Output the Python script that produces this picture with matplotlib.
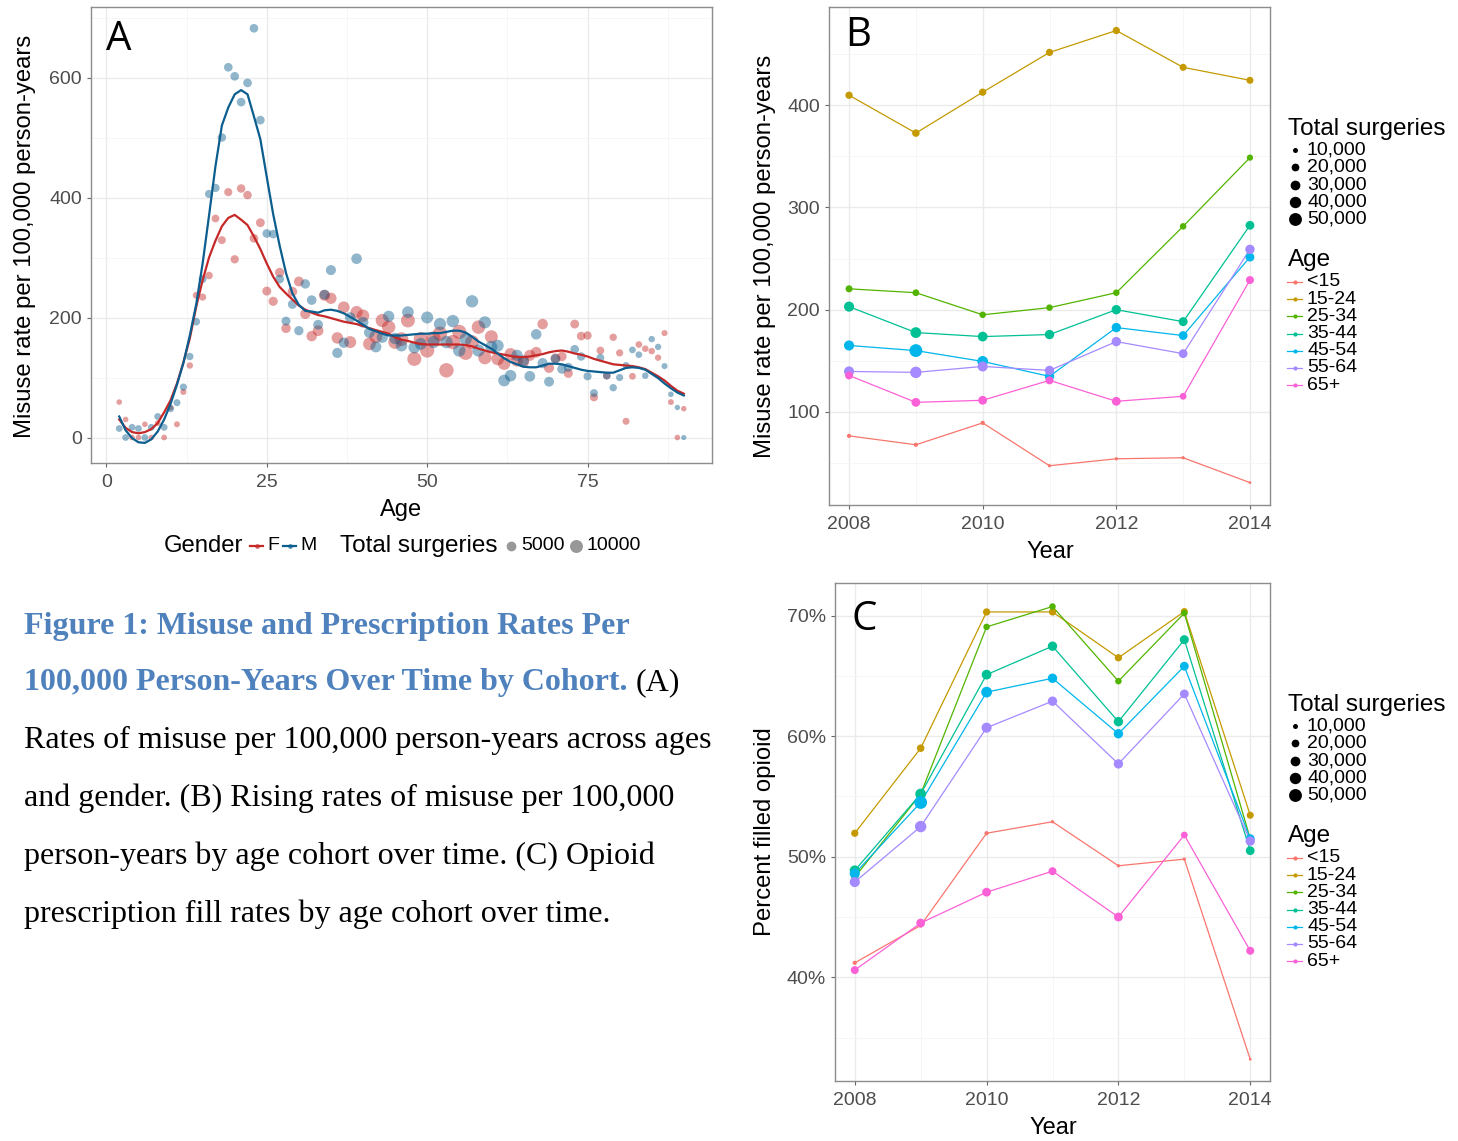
import numpy as np
import matplotlib.pyplot as plt
from matplotlib.lines import Line2D
from matplotlib.ticker import FuncFormatter

W, H = 1458, 1141
SANS = 'Liberation Sans'
SERIF = 'Liberation Serif'

# ---------------- panel A data ----------------
ages = list(range(2, 91))
f_rate = [59, 30, 0, 0, 22, 0, 24, 0, 50, 22, 76, 120,
          237, 234, 270, 365, 329,
          409, 297, 415, 404, 332, 358,
          244, 227, 275, 182, 243,
          260, 206, 169, 178, 237, 232,
          166, 217, 159, 209, 203, 156, 168, 195, 184, 159,
          164, 195, 131, 164, 145, 165, 173, 112, 159, 176, 141,
          159, 184, 133, 168, 131, 123,
          139, 128, 126, 137, 142, 189, 116, 132,
          135, 107, 189, 169, 170, 67, 145, 103, 167, 141,
          27, 102, 155, 148, 144, 133, 174,
          59, 0, 48]
m_rate = [15, 0, 17, 15, 0, 17, 35, 17, 48, 58, 84, 135,
          193, 264, 406, 416, 500,
          617, 602, 559, 591, 682, 529,
          340, 339, 264, 194, 222,
          178, 256, 229, 188, 238, 279,
          141, 158, 200, 298, 192, 175, 151, 167, 202, 165,
          153, 209, 150, 156, 200, 159, 189, 159, 194, 145, 164,
          227, 145, 192, 151, 153, 95,
          103, 137, 128, 102, 172, 124, 93, 131,
          114, 117, 147, 135, 102, 74, 133, 103, 83, 100,
          120, 146, 138, 103, 164, 151, 119,
          72, 50, 0]
# total surgeries (thousands)
f_surg = [0.6, 0.6, 0.6, 0.6, 0.6, 0.6, 0.7, 0.7, 0.8, 0.9, 1.0, 1.3,
          1.8, 2.0, 2.4, 2.6, 2.8,
          3.0, 3.2, 3.4, 3.4, 3.6, 3.8,
          4.0, 4.2, 4.4, 4.6, 4.8,
          5.2, 5.6, 6.0, 6.4, 6.8, 7.2,
          7.6, 8.0, 8.4, 8.8, 9.2, 9.6, 10.0, 10.4, 10.8, 11.2,
          11.6, 11.8, 12.0, 12.2, 12.4, 12.6, 12.8, 12.8, 12.6, 12.4, 12.0,
          11.5, 11.0, 10.5, 10.0, 9.5, 9.0,
          8.5, 8.0, 7.5, 7.0, 6.5, 6.0, 5.5, 5.0,
          4.6, 4.2, 3.8, 3.5, 3.2, 2.9, 2.6, 2.4, 2.2, 2.0,
          1.8, 1.6, 1.5, 1.4, 1.3, 1.2, 1.0,
          0.8, 0.6, 0.5]
m_surg = [1.6, 1.6, 1.6, 1.6, 1.6, 1.6, 1.7, 1.7, 1.8, 1.9, 2.0, 2.2,
          2.5, 2.8, 3.0, 3.2, 3.4,
          3.6, 3.6, 3.6, 3.6, 3.6, 3.6,
          3.6, 3.6, 3.8, 4.0, 4.2,
          4.4, 4.6, 4.8, 5.0, 5.2, 5.4,
          5.6, 5.8, 6.0, 6.2, 6.4, 6.6, 6.8, 7.0, 7.2, 7.4,
          7.6, 7.8, 8.0, 8.2, 8.4, 8.6, 8.8, 9.0, 9.0, 9.0, 9.0,
          9.0, 8.8, 8.6, 8.4, 8.2, 8.0,
          7.6, 7.2, 6.8, 6.4, 6.0, 5.6, 5.2, 4.8,
          4.4, 4.0, 3.6, 3.3, 3.0, 2.8, 2.6, 2.4, 2.2, 2.0,
          1.8, 1.6, 1.5, 1.4, 1.3, 1.2, 1.0,
          0.6, 0.4, 0.3]
# smoothed curves
f_fit = [30, 16, 9, 7, 9, 14, 24, 42, 62, 90, 125, 165,
         218, 262, 300, 328, 352,
         366, 371, 363, 354, 335, 314,
         290, 268, 251, 240, 230,
         220, 213, 208, 204, 202, 199,
         196, 193, 191, 189, 186, 182, 179, 176, 173, 167,
         163, 161, 158, 156, 155, 155, 155, 155, 155, 155, 154,
         152, 148, 145, 142, 140, 138,
         136, 134, 134, 135, 137, 139, 142, 144,
         145, 143, 140, 138, 135, 131, 128, 125, 122, 121,
         120, 119, 117, 114, 108, 102, 95,
         86, 78, 73]
m_fit = [35, 12, -1, -8, -9, -3, 10, 30, 56, 88, 124, 170,
         222, 290, 370, 452, 520,
         550, 572, 579, 572, 535, 497,
         434, 372, 320, 274, 240,
         221, 211, 210, 208, 212, 213,
         211, 207, 201, 195, 188, 181, 177, 173, 170, 170,
         170, 171, 172, 173, 173, 174, 174, 176, 178, 178, 175,
         168, 160, 154, 148, 140, 132,
         126, 122, 118, 117, 117, 120, 123, 123,
         122, 119, 116, 113, 111, 110, 109, 108, 108, 112,
         116, 117, 116, 113, 106, 99, 90,
         82, 75, 70]

# ---------------- panels B and C data ----------------
years = [2008, 2009, 2010, 2011, 2012, 2013, 2014]
cohorts = ['<15', '15-24', '25-34', '35-44', '45-54', '55-64', '65+']
hue = ['#F8766D', '#C49A00', '#53B400', '#00C094', '#00B6EB', '#A58AFF', '#FB61D7']

misuse_u15 = [76.6, 67.9, 89.3, 47.4, 54.2, 55.2, 30.9]
misuse_15_24 = [409.7, 372.7, 412.7, 451.6, 473.0, 437.0, 424.3]
misuse_25_34 = [220.4, 216.6, 195.0, 202.0, 216.6, 281.5, 348.7]
misuse_35_44 = [203.0, 177.6, 173.7, 175.7, 200.0, 188.3, 282.5]
misuse_45_54 = [165.0, 160.0, 149.4, 134.8, 182.5, 174.7, 251.4]
misuse_55_64 = [139.6, 138.7, 144.5, 140.6, 168.8, 157.0, 259.0]
misuse_65 = [135.7, 109.4, 111.4, 130.9, 110.4, 115.3, 229.0]

filled_u15 = [41.2, 44.3, 51.95, 52.9, 49.25, 49.8, 33.2]
filled_15_24 = [51.95, 59.0, 70.3, 70.3, 66.5, 70.33, 53.44]
filled_25_34 = [48.3, 55.2, 69.06, 70.75, 64.56, 70.2, 51.5]
filled_35_44 = [48.86, 55.2, 65.1, 67.46, 61.2, 68.0, 50.5]
filled_45_54 = [48.6, 54.5, 63.65, 64.8, 60.2, 65.8, 51.5]
filled_55_64 = [47.9, 52.5, 60.7, 62.9, 57.7, 63.5, 51.3]
filled_65 = [40.6, 44.5, 47.06, 48.8, 45.0, 51.8, 42.2]

surg_u15 = [8, 8, 8, 6, 6, 6, 5]
surg_15_24 = [18, 19, 18, 18, 18, 17, 17]
surg_25_34 = [17, 16, 15, 15, 15, 15, 14]
surg_35_44 = [32, 36, 30, 28, 28, 26, 25]
surg_45_54 = [32, 50, 36, 28, 28, 25, 25]
surg_55_64 = [32, 40, 32, 28, 28, 25, 28]
surg_65 = [21, 25, 25, 21, 25, 16, 21]

misuse = [misuse_u15, misuse_15_24, misuse_25_34, misuse_35_44, misuse_45_54, misuse_55_64, misuse_65]
filled = [filled_u15, filled_15_24, filled_25_34, filled_35_44, filled_45_54, filled_55_64, filled_65]
surg = [surg_u15, surg_15_24, surg_25_34, surg_35_44, surg_45_54, surg_55_64, surg_65]

RED = '#C62828'
BLUE = '#0B5E8E'


def size_a(s_k):
    d_px = np.sqrt(27 + 14.5 * (np.asarray(s_k, float) - 0.3))
    return (d_px * 0.72) ** 2


def size_bc(s_k):
    d_px = np.sqrt(np.maximum(25 + 3.5 * (np.asarray(s_k, float) - 10), 7))
    return (d_px * 0.72) ** 2


def fx(px):
    return px / W


def fy(py):
    return 1 - py / H


def style(ax):
    ax.set_facecolor('white')
    for sp in ax.spines.values():
        sp.set_color('#8c8c8c')
        sp.set_linewidth(1.0)
    ax.grid(True, which='major', color='#EBEBEB', linewidth=1.0, zorder=0)
    ax.grid(True, which='minor', color='#F5F5F5', linewidth=0.6, zorder=0)
    ax.set_axisbelow(True)
    ax.tick_params(which='major', length=3, width=0.8, color='#666666',
                   labelcolor='#4D4D4D', labelsize=14, pad=3.5)
    ax.tick_params(axis='x', which='major', pad=5)
    ax.tick_params(which='minor', length=0)
    for lab in ax.get_xticklabels() + ax.get_yticklabels():
        lab.set_family(SANS)


plt.rcParams['font.family'] = [SANS, 'DejaVu Sans']
fig = plt.figure(figsize=(W / 100, H / 100), dpi=100)


def add_axes(l, t, r, b):
    return fig.add_axes([l / W, 1 - b / H, (r - l) / W, (b - t) / H])


# ---------------- panel A ----------------
axA = add_axes(91, 7, 712, 463)
axA.scatter(ages, f_rate, s=size_a(f_surg), color=RED, alpha=0.45, linewidths=0, zorder=2)
axA.scatter(ages, m_rate, s=size_a(m_surg), color=BLUE, alpha=0.45, linewidths=0, zorder=2)
axA.plot(ages, f_fit, color=RED, lw=1.6, zorder=3)
axA.plot(ages, m_fit, color=BLUE, lw=1.6, zorder=3)
axA.set_xlim(-2.4, 94.4)
axA.set_ylim(-42.5, 717.5)
axA.set_xticks([0, 25, 50, 75])
axA.set_xticks([12.5, 37.5, 62.5, 87.5], minor=True)
axA.set_yticks([0, 200, 400, 600])
axA.set_yticks([100, 300, 500, 700], minor=True)
style(axA)

fig.text(fx(25), fy(236), 'Misuse rate per 100,000 person-years', rotation=90,
         ha='center', va='center', fontsize=17.2)
fig.text(fx(401), fy(510), 'Age', ha='center', va='center', fontsize=17)
fig.text(fx(106), fy(40), 'A', ha='left', va='center', fontsize=29, family='Open Sans')

# bottom legend of A
ly = fy(546)
fig.text(fx(164), ly, 'Gender', ha='left', va='center', fontsize=17.2)
for x0, col, lab in [(250, RED, 'F'), (283, BLUE, 'M')]:
    fig.add_artist(Line2D([fx(x0), fx(x0 + 13)], [ly, ly], color=col, lw=1.6,
                          transform=fig.transFigure))
    fig.add_artist(Line2D([fx(x0 + 6.5)], [ly], marker='o', ms=2.5, color=col, alpha=0.6,
                          transform=fig.transFigure))
    fig.text(fx(x0 + 17), ly, lab, ha='left', va='center', fontsize=14)
fig.text(fx(340), ly, 'Total surgeries', ha='left', va='center', fontsize=17.5)
for xc, val in [(511, 5), (576, 10)]:
    fig.add_artist(Line2D([fx(xc)], [ly], marker='o', ms=np.sqrt(size_a(val)),
                          color='#7f7f7f', alpha=0.8, mew=0, transform=fig.transFigure))
    fig.text(fx(xc + 10), ly, f'{val * 1000}', ha='left', va='center', fontsize=14)


# ---------------- panels B and C ----------------
def cohort_panel(ax, series, ylim):
    for vals, col in zip(series, hue):
        ax.plot(years, vals, color=col, lw=0.9, zorder=2)
    for vals, sz, col in zip(series, surg, hue):
        ax.scatter(years, vals, s=size_bc(sz), color=col, linewidths=0, zorder=3)
    ax.set_xlim(2007.7, 2014.3)
    ax.set_ylim(*ylim)
    ax.set_xticks([2008, 2010, 2012, 2014])
    ax.set_xticks([2009, 2011, 2013], minor=True)
    style(ax)


def side_legend(top):
    fig.text(fx(1288), fy(top), 'Total surgeries', ha='left', va='center', fontsize=17.5)
    for i, val in enumerate([10, 20, 30, 40, 50]):
        y = fy(top + 21 + 17.3 * i)
        fig.add_artist(Line2D([fx(1295)], [y], marker='o', ms=np.sqrt(size_bc(val)),
                              color='black', mew=0, transform=fig.transFigure))
        fig.text(fx(1307), y, f'{val},000', ha='left', va='center', fontsize=14)
    fig.text(fx(1288), fy(top + 131), 'Age', ha='left', va='center', fontsize=17.5)
    for i, (lab, col) in enumerate(zip(cohorts, hue)):
        y = fy(top + 153 + 17.2 * i)
        fig.add_artist(Line2D([fx(1287), fx(1302)], [y, y], color=col, lw=0.9,
                              transform=fig.transFigure))
        fig.add_artist(Line2D([fx(1294.5)], [y], marker='o', ms=3, color=col, mew=0,
                              transform=fig.transFigure))
        fig.text(fx(1307), y, lab, ha='left', va='center', fontsize=14)


axB = add_axes(829, 7, 1270, 505)
cohort_panel(axB, misuse, (9, 496))
axB.set_yticks([100, 200, 300, 400])
axB.set_yticks([50, 150, 250, 350, 450], minor=True)
style(axB)
fig.text(fx(765), fy(256), 'Misuse rate per 100,000 person-years', rotation=90,
         ha='center', va='center', fontsize=17.2)
fig.text(fx(1050), fy(552), 'Year', ha='center', va='center', fontsize=17)
fig.text(fx(845), fy(36), 'B', ha='left', va='center', fontsize=29, family='Open Sans')
side_legend(129)

axC = add_axes(835, 583, 1270, 1081)
cohort_panel(axC, filled, (31.4, 72.7))
axC.set_yticks([40, 50, 60, 70])
axC.set_yticks([35, 45, 55, 65], minor=True)
axC.yaxis.set_major_formatter(FuncFormatter(lambda v, _: f'{v:.0f}%'))
style(axC)
fig.text(fx(765), fy(832), 'Percent filled opioid', rotation=90,
         ha='center', va='center', fontsize=17.2)
fig.text(fx(1053), fy(1128), 'Year', ha='center', va='center', fontsize=17)
fig.text(fx(852), fy(620), 'C', ha='left', va='center', fontsize=29, family='Open Sans')
side_legend(705)

# ---------------- caption ----------------
CAP_BLUE = '#4F81BD'
cap_size = 23
x0 = fx(24)
fig.text(x0, fy(634), 'Figure 1: Misuse and Prescription Rates Per', family=SERIF,
         fontsize=cap_size, weight='bold', color=CAP_BLUE, va='baseline')
t2 = fig.text(x0, fy(690), '100,000 Person-Years Over Time by Cohort.', family=SERIF,
              fontsize=cap_size, weight='bold', color=CAP_BLUE, va='baseline')
fig.canvas.draw()
bb = t2.get_window_extent()
fig.text(bb.x1 / W + fx(8), fy(690), '(A)', family=SERIF, fontsize=cap_size,
         color='black', va='baseline')
body = ['Rates of misuse per 100,000 person-years across ages',
        'and gender. (B) Rising rates of misuse per 100,000',
        'person-years by age cohort over time. (C) Opioid',
        'prescription fill rates by age cohort over time.']
for i, line in enumerate(body):
    fig.text(x0, fy(748 + 58 * i), line, family=SERIF, fontsize=cap_size,
             color='black', va='baseline')

fig.savefig('out.png', dpi=100, facecolor='white')
